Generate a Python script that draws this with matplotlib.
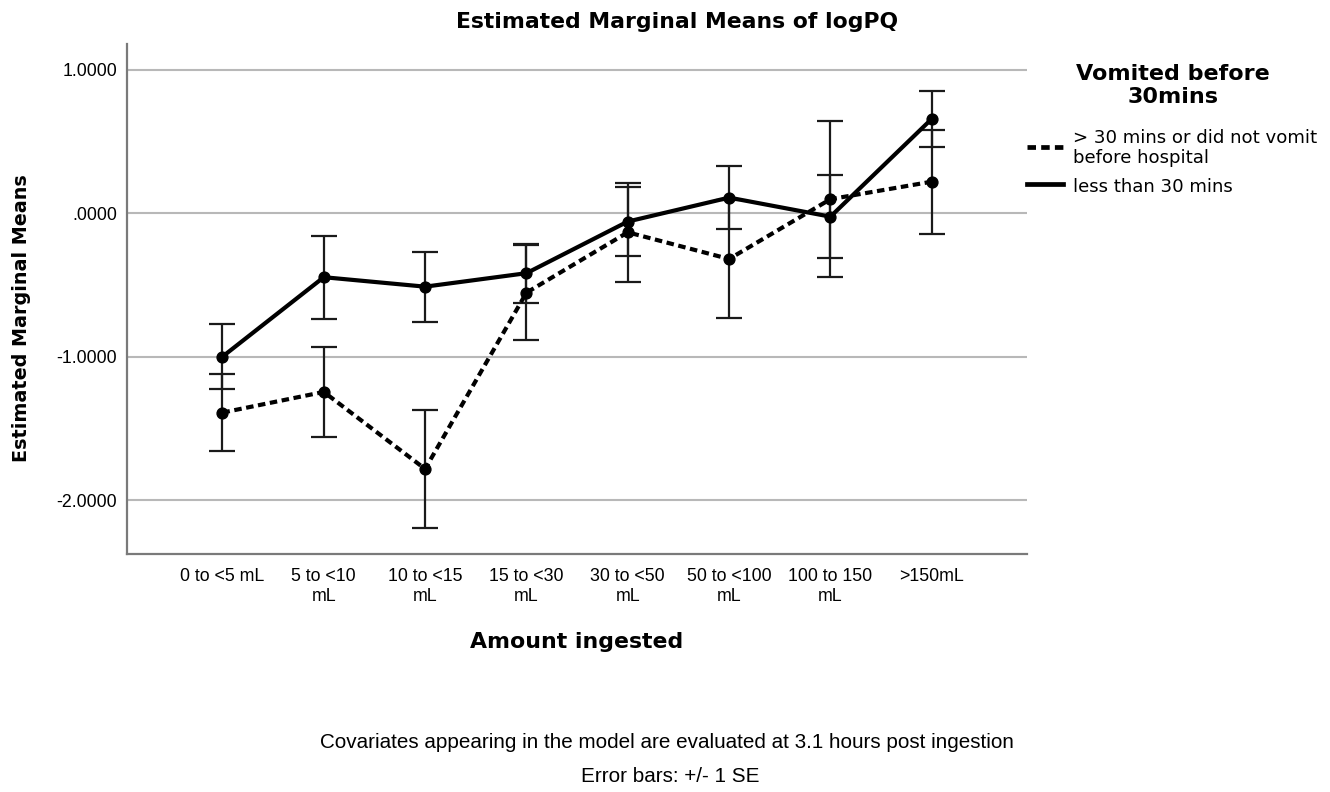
import matplotlib
matplotlib.use("Agg")
import matplotlib.pyplot as plt
from matplotlib.lines import Line2D
import numpy as np

# ---------------- data ----------------
categories = ["0 to <5 mL", "5 to <10\nmL", "10 to <15\nmL", "15 to <30\nmL",
              "30 to <50\nmL", "50 to <100\nmL", "100 to 150\nmL", ">150mL"]
over30_mean = [-1.390, -1.246, -1.783, -0.554, -0.133, -0.319, 0.098, 0.220]
over30_se = [0.267, 0.315, 0.410, 0.330, 0.346, 0.410, 0.544, 0.362]
under30_mean = [-1.000, -0.446, -0.512, -0.418, -0.058, 0.109, -0.024, 0.658]
under30_se = [0.225, 0.290, 0.243, 0.205, 0.240, 0.220, 0.290, 0.197]
ytick_vals = [-2.0, -1.0, 0.0, 1.0]
ytick_labels = ["-2.0000", "-1.0000", ".0000", "1.0000"]
series_label_lines = [["> 30 mins or did not vomit", "before hospital"], ["less than 30 mins"]]
legend_title_lines = ["Vomited before", "30mins"]
title = "Estimated Marginal Means of logPQ"
xlabel = "Amount ingested"
ylabel = "Estimated Marginal Means"
foot1 = "Covariates appearing in the model are evaluated at 3.1 hours post ingestion"
foot2 = "Error bars: +/- 1 SE"

# ---------------- figure ----------------
W, H = 1330, 792
fig = plt.figure(figsize=(W / 100, H / 100), dpi=100)
plt.rcParams['font.family'] = ['Liberation Sans', 'DejaVu Sans']

def fx(px):
    return px / W

def fy(py):
    return 1 - py / H

ax = fig.add_axes([fx(126.7), fy(554), fx(1027) - fx(126.7), fy(44) - fy(554)])
x = np.arange(len(categories))

grid_col = "#b8b8b8"
for v in ytick_vals:
    ax.axhline(v, color=grid_col, lw=1.5, zorder=0)

err_kw = dict(ecolor="#1a1a1a", elinewidth=1.6, capsize=9.5, capthick=1.6)
ax.errorbar(x, over30_mean, yerr=over30_se, fmt="none", zorder=2, **err_kw)
ax.errorbar(x, under30_mean, yerr=under30_se, fmt="none", zorder=2, **err_kw)
dash_style = (0, (1.8, 1.1))
l1, = ax.plot(x, over30_mean, color="black", lw=3.0, linestyle=dash_style,
              marker="o", markersize=7.8, zorder=3)
l2, = ax.plot(x, under30_mean, color="black", lw=3.0, linestyle="-",
              marker="o", markersize=7.8, zorder=4)

ax.set_xlim(-0.945, 7.94)
ax.set_ylim(-2.376, 1.18)
ax.set_xticks(x)
ax.set_xticklabels(categories, fontsize=12.8, linespacing=1.22)
ax.set_yticks(ytick_vals)
ax.set_yticklabels(ytick_labels, fontsize=12.8)
ax.tick_params(axis="x", length=0, pad=10)
ax.tick_params(axis="y", length=0, pad=7)
for s in ["top", "right"]:
    ax.spines[s].set_visible(False)
for s in ["left", "bottom"]:
    ax.spines[s].set_color("#7a7a7a")
    ax.spines[s].set_linewidth(1.6)

# texts
bold_font = ['DejaVu Sans']
t_title = fig.text(fx(677), fy(22), title, ha="center", va="center",
                   fontsize=15.5, fontweight="bold", family=bold_font)
t_xlab = fig.text(fx(577), fy(642), xlabel, ha="center", va="center",
                  fontsize=15, fontweight="bold", family=bold_font)
t_ylab = fig.text(fx(22), fy(318), ylabel, ha="center", va="center", rotation=90,
                  fontsize=14, fontweight="bold", family=bold_font)
t_f1 = fig.text(fx(667), fy(742), foot1, ha="center", va="center", fontsize=13)
t_f2 = fig.text(fx(670), fy(777), foot2, ha="center", va="center", fontsize=13)

# legend (drawn by hand to match the SPSS layout)
lt1 = fig.text(fx(1173), fy(80), legend_title_lines[0], ha="center", va="baseline",
               fontsize=15.5, fontweight="bold", family=bold_font)
lt2 = fig.text(fx(1173), fy(103), legend_title_lines[1], ha="center", va="baseline",
               fontsize=15.5, fontweight="bold", family=bold_font)
leg_font = dict(fontsize=13, family=['DejaVu Sans'], ha="left", va="baseline")
e1a = fig.text(fx(1073), fy(143.3), series_label_lines[0][0], **leg_font)
e1b = fig.text(fx(1073), fy(163.3), series_label_lines[0][1], **leg_font)
e2 = fig.text(fx(1073), fy(191.7), series_label_lines[1][0], **leg_font)
for (yy, style) in [(146.7, dash_style), (183.5, "-")]:
    fig.add_artist(Line2D([fx(1027), fx(1063)], [fy(yy), fy(yy)], color="black",
                          lw=3.4, linestyle=style, transform=fig.transFigure))

# fit text widths to the reference
fig.canvas.draw()
r = fig.canvas.get_renderer()

def fit(t, target, vertical=False):
    bb = t.get_window_extent(r)
    cur = bb.height if vertical else bb.width
    t.set_fontsize(t.get_fontsize() * target / cur)

fit(t_title, 440)
fit(t_xlab, 213)
fit(t_ylab, 287, vertical=True)
fit(t_f1, 690)
t_f2.set_fontsize(t_f1.get_fontsize())
fit(lt1, 193)
lt2.set_fontsize(lt1.get_fontsize())
fit(e1a, 244)
e1b.set_fontsize(e1a.get_fontsize())
e2.set_fontsize(e1a.get_fontsize())

fig.savefig("out.png", dpi=100)
